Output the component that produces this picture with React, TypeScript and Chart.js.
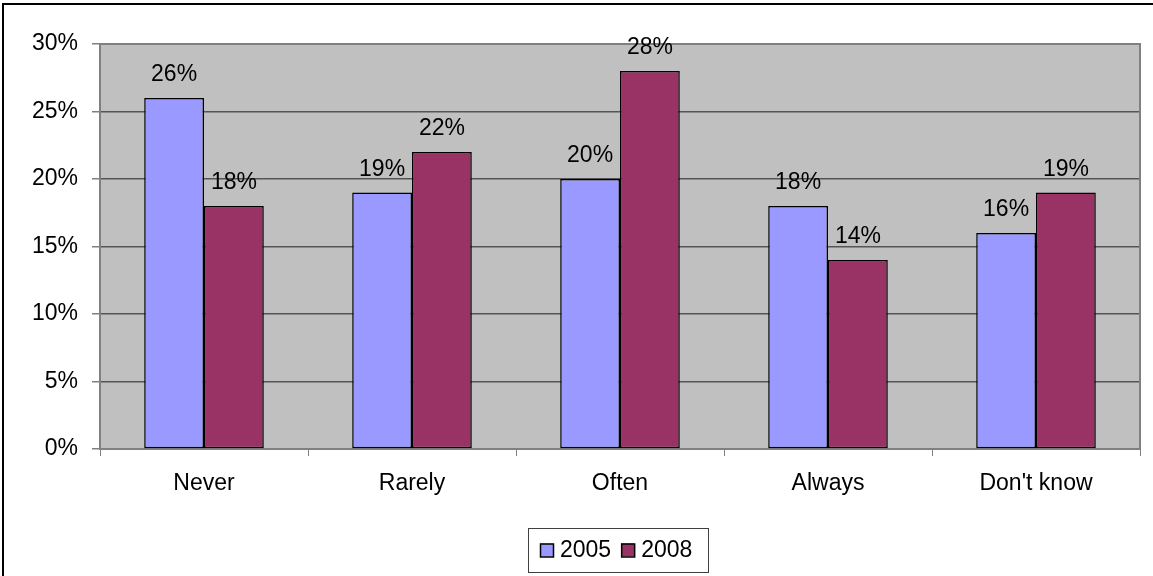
import React, { useEffect, useRef } from "react";
import { Chart, registerables } from "chart.js";

Chart.register(...registerables);

const categories = ["Never", "Rarely", "Often", "Always", "Don't know"];
const series2005 = [26, 19, 20, 18, 16];
const series2008 = [18, 22, 28, 14, 19];
const seriesLabels = ["2005", "2008"];
const yTicks = [0, 5, 10, 15, 20, 25, 30];

const FONT = "'Liberation Sans', Arial, sans-serif";
const FSIZE = 23;
const COLOR_A = "#9999FF";
const COLOR_B = "#993366";

const decorPlugin = {
  id: "decor",
  beforeDraw(chart: any) {
    const { ctx, chartArea: a } = chart;
    ctx.save();
    ctx.fillStyle = "#FFFFFF";
    ctx.fillRect(0, 0, chart.width, chart.height);
    ctx.fillStyle = "#C0C0C0";
    ctx.fillRect(a.left, a.top, a.right - a.left, a.bottom - a.top);
    ctx.restore();
  },
  beforeDatasetsDraw(chart: any) {
    const { ctx, chartArea: a } = chart;
    ctx.save();
    ctx.strokeStyle = "#808080";
    ctx.lineWidth = 2;
    ctx.beginPath();
    ctx.moveTo(a.left, a.top);
    ctx.lineTo(a.right, a.top);
    ctx.lineTo(a.right, a.bottom);
    ctx.stroke();
    ctx.restore();
  },
  afterDatasetsDraw(chart: any) {
    const { ctx } = chart;
    ctx.save();
    ctx.font = `${FSIZE}px ${FONT}`;
    ctx.fillStyle = "#000";
    ctx.textAlign = "center";
    ctx.textBaseline = "alphabetic";
    chart.data.datasets.forEach((ds: any, di: number) => {
      const meta = chart.getDatasetMeta(di);
      meta.data.forEach((bar: any, i: number) => {
        ctx.fillText(ds.data[i] + "%", bar.x, bar.y - 17);
      });
    });
    ctx.restore();
  },
  afterDraw(chart: any) {
    const { ctx } = chart;
    ctx.save();
    // outer frame (top & left visible)
    ctx.strokeStyle = "#000";
    ctx.lineWidth = 2;
    ctx.beginPath();
    ctx.moveTo(3, chart.height + 5);
    ctx.lineTo(3, 4);
    ctx.lineTo(chart.width + 5, 4);
    ctx.stroke();

    // legend
    const lx = 528, ly = 528, lw = 180, lh = 44;
    ctx.fillStyle = "#fff";
    ctx.fillRect(lx, ly, lw, lh);
    ctx.strokeStyle = "#404040";
    ctx.lineWidth = 1;
    ctx.strokeRect(lx + 0.5, ly + 0.5, lw, lh);
    ctx.font = `${FSIZE}px ${FONT}`;
    ctx.textBaseline = "middle";
    ctx.textAlign = "left";
    const cy = ly + lh / 2;
    let x = lx + 12;
    chart.data.datasets.forEach((ds: any) => {
      ctx.fillStyle = ds.backgroundColor;
      ctx.fillRect(x, cy - 6.5, 13, 13);
      ctx.strokeStyle = "#000";
      ctx.lineWidth = 1.5;
      ctx.strokeRect(x + 0.5, cy - 6.5 + 0.5, 13, 13);
      ctx.fillStyle = "#000";
      ctx.fillText(ds.label, x + 20, cy + 1);
      x += 20 + ctx.measureText(ds.label).width + 10;
    });
    ctx.restore();
  },
};

export default function App() {
  const ref = useRef<HTMLCanvasElement>(null);
  useEffect(() => {
    document.body.style.margin = "0";
    const chart = new Chart(ref.current!, {
      type: "bar",
      data: {
        labels: categories,
        datasets: [
          {
            label: seriesLabels[0],
            data: series2005,
            backgroundColor: COLOR_A,
            borderColor: "#000",
            borderWidth: 1.5,
            borderSkipped: false,
          },
          {
            label: seriesLabels[1],
            data: series2008,
            backgroundColor: COLOR_B,
            borderColor: "#000",
            borderWidth: 1.5,
            borderSkipped: false,
          },
        ],
      },
      options: {
        responsive: false,
        animation: false,
        devicePixelRatio: 1,
        layout: { padding: { left: 0, right: 13, top: 44, bottom: 0 } },
        plugins: { legend: { display: false }, tooltip: { enabled: false } },
        datasets: { bar: { categoryPercentage: 0.575, barPercentage: 1 } },
        scales: {
          x: {
            grid: {
              drawOnChartArea: false,
              tickLength: 7,
              tickColor: "#808080",
              offset: true,
            },
            border: { color: "#808080", width: 2 },
            ticks: {
              color: "#000",
              font: { family: FONT, size: FSIZE },
              padding: 14,
              maxRotation: 0,
            },
            afterFit(scale: any) {
              scale.height = 127;
            },
          },
          y: {
            min: 0,
            max: 30,
            afterBuildTicks(scale: any) {
              scale.ticks = yTicks.map((v) => ({ value: v }));
            },
            grid: {
              color: "#555555",
              tickLength: 8,
              tickColor: "#808080",
              lineWidth: 1.5,
            },
            border: { color: "#808080", width: 2 },
            ticks: {
              color: "#000",
              font: { family: FONT, size: FSIZE },
              padding: 14,
              callback: (v: any) => v + "%",
            },
            afterFit(scale: any) {
              scale.width = 100;
            },
          },
        },
      },
      plugins: [decorPlugin],
    });
    return () => chart.destroy();
  }, []);
  return <canvas ref={ref} width={1153} height={576} style={{ display: "block" }} />;
}
